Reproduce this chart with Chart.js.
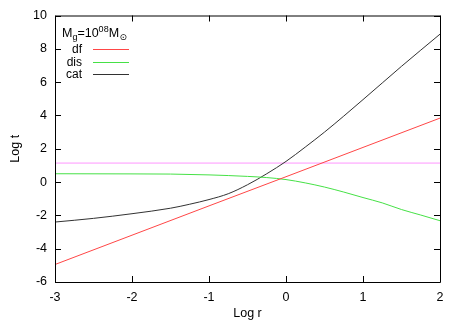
<!DOCTYPE html>
<html>
<head>
<meta charset="utf-8">
<script src="https://cdn.jsdelivr.net/npm/chart.js@4/dist/chart.umd.min.js"></script>
<style>
  html, body { margin: 0; padding: 0; background: #fff; }
  #wrap { width: 463px; height: 324px; }
</style>
</head>
<body>
<div id="wrap"><canvas id="myChart" width="463" height="324"></canvas></div>
<script>
// dynamical friction time (straight line)
const dfR = [-3, -2, -1, 0, 1, 2];
const dfVals = [-4.95, -3.19, -1.43, 0.32, 2.08, 3.84];
// disruption time
const disR = [-3, -2, -1.5, -1, -0.5, -0.25, 0, 0.25, 0.5, 0.75, 1, 1.25, 1.5, 1.75, 2];
const disVals = [0.5, 0.49, 0.48, 0.43, 0.34, 0.27, 0.15, -0.05, -0.3, -0.6, -0.93, -1.25, -1.65, -1.98, -2.32];
// catastrophic time
const catR = [-3, -2.5, -2, -1.5, -1.25, -1, -0.75, -0.5, -0.25, 0, 0.25, 0.5, 0.75, 1, 1.25, 1.5, 1.75, 2];
const catVals = [-2.4, -2.18, -1.9, -1.57, -1.33, -1.05, -0.7, -0.16, 0.5, 1.24, 2.1, 3.0, 3.96, 4.95, 5.95, 6.95, 7.92, 8.88];
// horizontal reference line
const hubbleR = [-3, 2];
const hubbleVals = [1.14, 1.14];

const xTicks = [-3, -2, -1, 0, 1, 2];
const yTicks = [-6, -4, -2, 0, 2, 4, 6, 8, 10];

function pts(xs, ys) {
    return xs.map((x, i) => ({x: x, y: ys[i]}));
}

const fontFam = '"Liberation Sans", Arial, sans-serif';

// frame, inward ticks and the legend, drawn like gnuplot does
const framePlugin = {
    id: 'frame',
    afterDraw(chart) {
        const ctx = chart.ctx;
        const a = chart.chartArea;
        const xs = chart.scales.x, ys = chart.scales.y;
        ctx.save();
        ctx.strokeStyle = '#000';
        ctx.lineWidth = 1;
        ctx.beginPath();
        ctx.rect(a.left + 0.5, a.top + 0.5, a.right - a.left, a.bottom - a.top);
        ctx.stroke();
        ctx.beginPath();
        xTicks.forEach(v => {
            const px = Math.round(xs.getPixelForValue(v)) + 0.5;
            ctx.moveTo(px, a.bottom); ctx.lineTo(px, a.bottom - 6);
            ctx.moveTo(px, a.top); ctx.lineTo(px, a.top + 6);
        });
        yTicks.forEach(v => {
            const py = Math.round(ys.getPixelForValue(v)) + 0.5;
            ctx.moveTo(a.left, py); ctx.lineTo(a.left + 6, py);
            ctx.moveTo(a.right, py); ctx.lineTo(a.right - 6, py);
        });
        ctx.stroke();

        // legend title M_g=10^08 M_sun
        ctx.fillStyle = '#000';
        ctx.textBaseline = 'alphabetic';
        ctx.textAlign = 'left';
        let x = 62, base = 37;
        ctx.font = '12.5px ' + fontFam;
        ctx.fillText('M', x, base); x += ctx.measureText('M').width;
        ctx.font = '9px ' + fontFam;
        ctx.fillText('g', x, base + 3); x += ctx.measureText('g').width;
        ctx.font = '12.5px ' + fontFam;
        ctx.fillText('=10', x, base); x += ctx.measureText('=10').width;
        ctx.font = '9px ' + fontFam;
        ctx.fillText('08', x, base - 5); x += ctx.measureText('08').width;
        ctx.font = '12.5px ' + fontFam;
        ctx.fillText('M', x, base); x += ctx.measureText('M').width + 0.5;
        ctx.font = '9px "DejaVu Sans", sans-serif';
        ctx.fillText('\u2299', x, base + 3);

        // entries
        ctx.font = '12px ' + fontFam;
        ctx.textAlign = 'right';
        const labels = ['df', 'dis', 'cat'];
        labels.forEach((lab, i) => {
            const y = 49 + i * 12.6;
            ctx.fillStyle = '#000';
            ctx.fillText(lab, 82, y + 4);
            ctx.strokeStyle = chart.data.datasets[i].borderColor;
            ctx.beginPath();
            ctx.moveTo(93, Math.round(y) + 0.5);
            ctx.lineTo(129, Math.round(y) + 0.5);
            ctx.stroke();
        });
        ctx.restore();
    }
};

const ctx = document.getElementById('myChart').getContext('2d');
const chart = new Chart(ctx, {
    type: 'line',
    data: {
        datasets: [
            {label: 'df', data: pts(dfR, dfVals), borderColor: 'rgb(255,70,70)'},
            {label: 'dis', data: pts(disR, disVals), borderColor: 'rgb(70,225,70)'},
            {label: 'cat', data: pts(catR, catVals), borderColor: 'rgb(50,50,50)'},
            {label: 'hubble', data: pts(hubbleR, hubbleVals), borderColor: 'rgb(255,150,255)'}
        ]
    },
    options: {
        responsive: false,
        animation: false,
        events: [],
        elements: {
            point: {radius: 0},
            line: {borderWidth: 1, cubicInterpolationMode: 'monotone'}
        },
        layout: {padding: {top: 15, right: 23, left: 0, bottom: 0}},
        plugins: {legend: {display: false}, tooltip: {enabled: false}},
        scales: {
            x: {
                type: 'linear', min: -3, max: 2,
                grid: {display: false, drawTicks: false}, border: {display: false},
                afterFit(s) { s.height = 42; },
                afterBuildTicks(s) { s.ticks = xTicks.map(v => ({value: v})); },
                ticks: {color: '#000', font: {size: 12.5, family: fontFam}, padding: 8, maxRotation: 0},
                title: {display: true, text: 'Log r', color: '#000', font: {size: 12.5, family: fontFam}, padding: {top: 3, bottom: 3}}
            },
            y: {
                min: -6, max: 10,
                grid: {display: false, drawTicks: false}, border: {display: false},
                afterFit(s) { s.width = 55; },
                afterBuildTicks(s) { s.ticks = yTicks.map(v => ({value: v})); },
                ticks: {color: '#000', font: {size: 12.5, family: fontFam}, padding: 8},
                title: {display: true, text: 'Log t', color: '#000', font: {size: 12.5, family: fontFam}, padding: {top: 8, bottom: 8}}
            }
        }
    },
    plugins: [framePlugin]
});
</script>
</body>
</html>
